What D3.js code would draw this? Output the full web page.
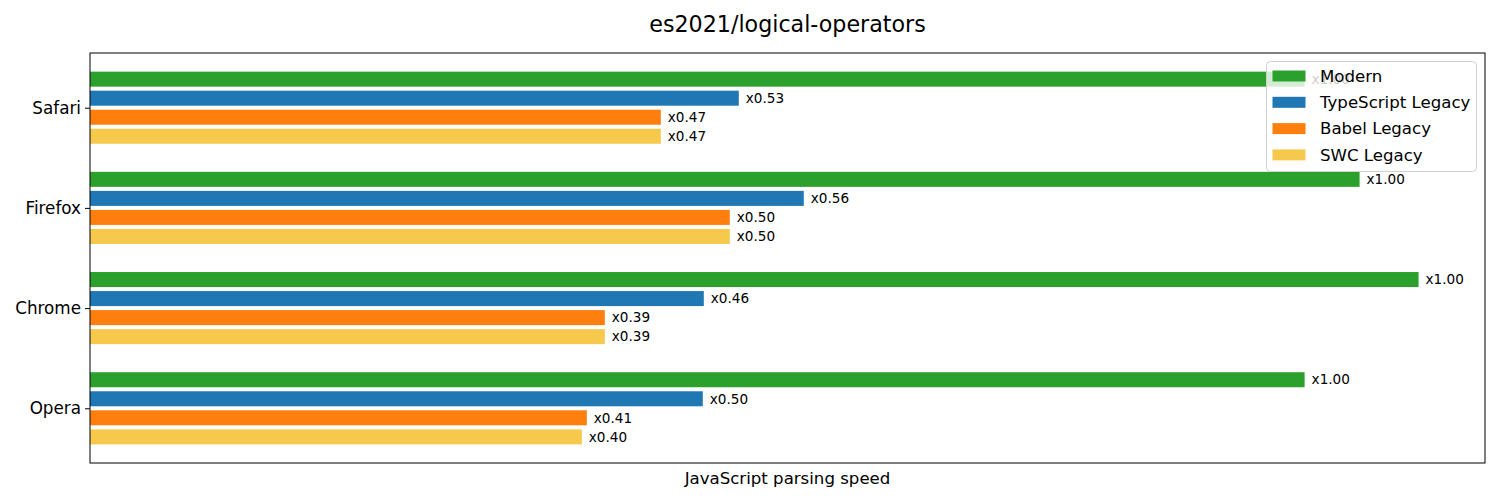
<!DOCTYPE html>
<html>
<head>
<meta charset="utf-8">
<script src="https://cdn.jsdelivr.net/npm/d3@7"></script>
<style>
  html, body { margin: 0; padding: 0; background: #fff; }
  svg { display: block; font-family: "DejaVu Sans", sans-serif; }
</style>
</head>
<body>
<svg id="chart" width="1500" height="500"></svg>
<script>
// ---- data ----
const browsers = ["Safari", "Firefox", "Chrome", "Opera"];
const seriesNames = ["Modern", "TypeScript Legacy", "Babel Legacy", "SWC Legacy"];
const seriesColors = ["#2ca02c", "#1f77b4", "#ff7f0e", "#f6c94d"];
// parsing speed (relative units) per browser, in browser order
const modern     = [1215, 1270, 1329, 1215];
const tsLegacy   = [649, 714, 614, 613];
const babelLegacy = [571, 640, 515, 497];
const swcLegacy  = [571, 640, 515, 492];
const modernLabels = ["x1.00", "x1.00", "x1.00", "x1.00"];
const tsLabels     = ["x0.53", "x0.56", "x0.46", "x0.50"];
const babelLabels  = ["x0.47", "x0.50", "x0.39", "x0.41"];
const swcLabels    = ["x0.47", "x0.50", "x0.39", "x0.40"];
const titleText = "es2021/logical-operators";
const xLabelText = "JavaScript parsing speed";

const seriesValues = [modern, tsLegacy, babelLegacy, swcLegacy];
const seriesLabels = [modernLabels, tsLabels, babelLabels, swcLabels];

// ---- layout ----
const svg = d3.select("#chart");
const mLeft = 90, mRight = 1485, mTop = 53, mBottom = 463;
const barH = 0.15, step = 0.19;
const nG = browsers.length;

const maxV = d3.max(seriesValues.flat());
const x = d3.scaleLinear().domain([0, maxV * 1.05]).range([mLeft, mRight]);

// group position: Opera at 0 (bottom), Safari at 3 (top)
const gpos = i => nG - 1 - i;
const lo = -1.5 * step - barH / 2, hi = (nG - 1) + 1.5 * step + barH / 2;
const pad = (hi - lo) * 0.05;
const y = d3.scaleLinear().domain([lo - pad, hi + pad]).range([mBottom, mTop]);

// bars
const bars = [];
seriesValues.forEach((vals, s) => {
  vals.forEach((v, i) => {
    const c = gpos(i) + (1.5 - s) * step;
    bars.push({ s, i, v, c, label: seriesLabels[s][i] });
  });
});

svg.append("g").selectAll("rect").data(bars).join("rect")
  .attr("x", x(0))
  .attr("y", d => y(d.c + barH / 2))
  .attr("width", d => x(d.v) - x(0))
  .attr("height", d => y(d.c - barH / 2) - y(d.c + barH / 2))
  .attr("fill", d => seriesColors[d.s]);

svg.append("g").selectAll("text").data(bars).join("text")
  .attr("x", d => x(d.v) + 7)
  .attr("y", d => y(d.c))
  .attr("dy", "0.35em")
  .attr("font-size", 13.6)
  .attr("fill", "#000")
  .text(d => d.label);

// y axis
const yAxis = d3.axisLeft(y)
  .tickValues(browsers.map((b, i) => gpos(i)))
  .tickFormat(v => browsers[nG - 1 - v])
  .tickSize(5).tickPadding(4);
const ya = svg.append("g").attr("transform", `translate(${mLeft},0)`).call(yAxis);
ya.select(".domain").remove();
ya.selectAll("text").attr("font-size", 16.8).attr("font-family", "DejaVu Sans, sans-serif").attr("fill", "#000");
ya.selectAll("line").attr("stroke", "#000");

// frame
svg.append("rect").attr("x", mLeft).attr("y", mTop)
  .attr("width", mRight - mLeft).attr("height", mBottom - mTop)
  .attr("fill", "none").attr("stroke", "#000").attr("stroke-width", 1);

// title and x label
svg.append("text").attr("x", (mLeft + mRight) / 2).attr("y", 32)
  .attr("text-anchor", "middle").attr("font-size", 22.2).text(titleText);
svg.append("text").attr("x", (mLeft + mRight) / 2).attr("y", 484)
  .attr("text-anchor", "middle").attr("font-size", 16.6).text(xLabelText);

// legend
const lg = svg.append("g").attr("transform", "translate(1266.5,61.5)");
lg.append("rect").attr("width", 210).attr("height", 110).attr("rx", 4)
  .attr("fill", "#fff").attr("fill-opacity", 0.8)
  .attr("stroke", "#d0d0d0").attr("stroke-width", 1);
seriesNames.forEach((name, s) => {
  const cy = 14.5 + s * 26.3;
  lg.append("rect").attr("x", 6).attr("y", cy - 5.5).attr("width", 33).attr("height", 11)
    .attr("fill", seriesColors[s]);
  lg.append("text").attr("x", 53.5).attr("y", cy).attr("dy", "0.35em")
    .attr("font-size", 16.6).text(name);
});
</script>
</body>
</html>
